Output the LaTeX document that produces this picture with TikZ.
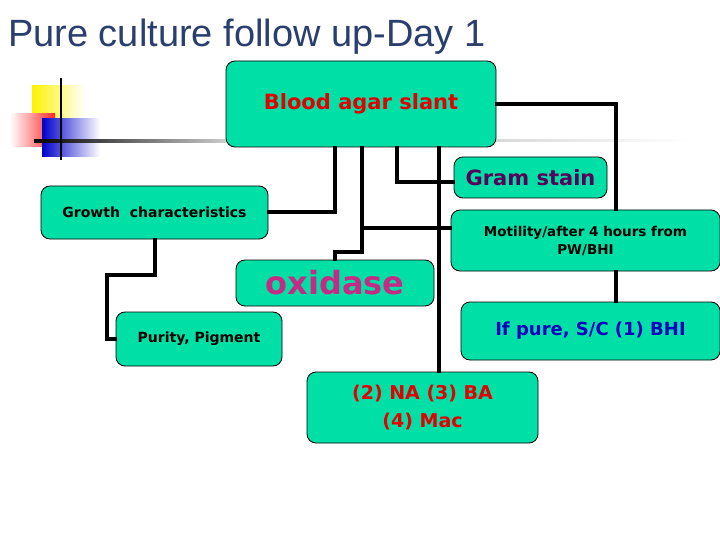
\documentclass[tikz,border=0pt]{standalone}
\usepackage{fontspec}
\setmainfont{DejaVu Sans}
\newfontfamily\titlefont{Liberation Sans}
\begin{document}
\begin{tikzpicture}[x=1pt,y=-1pt,
  box/.style={draw=black, line width=0.8pt, fill=boxgreen, rounded corners=9pt, inner sep=2pt, align=center, font=\bfseries},
  link/.style={line width=3.5pt, line cap=rect}]
\definecolor{boxgreen}{HTML}{00E0A6}
\definecolor{titleblue}{HTML}{2A3F6E}
\useasboundingbox (0,0) rectangle (720,540);
\fill[white] (0,0) rectangle (720,540);
% decoration
\shade[left color=yellow!90!orange, right color=white] (32,86) rectangle (85,122);
\shade[left color=white, right color=red!85] (10,114) rectangle (55,147);
\shade[left color=blue!80!black, right color=white] (42,119) rectangle (100,157);
\shade[left color=black, right color=gray!40] (34,140) rectangle (226,143);
\shade[left color=gray!30, right color=white] (496,140) rectangle (690,142);
\draw[line width=2pt] (61,78) -- (61,160);
\node[anchor=base west, font=\titlefont\fontsize{38}{40}\selectfont, text=titleblue, inner sep=0] (title) at (8,47) {Pure culture follow up-Day 1};
% boxes
\node[box, minimum width=270, minimum height=86, text=red!90!black, font=\bfseries\fontsize{21}{24}\selectfont] (blood) at (361,104) {Blood agar slant};
\node[box, minimum width=153, minimum height=41, text=violet!70!black, font=\bfseries\fontsize{21}{24}\selectfont] (gram) at (530.5,177.5) {Gram stain};
\node[box, minimum width=269, minimum height=61, font=\bfseries\fontsize{13.5}{18}\selectfont] (mot) at (585.5,240.5) {Motility/after 4 hours from\\PW/BHI};
\node[box, minimum width=227, minimum height=53, font=\bfseries\fontsize{14}{16}\selectfont] (growth) at (154.5,212.5) {Growth\ \ characteristics};
\node[box, minimum width=198, minimum height=46, text=magenta!80!black, font=\bfseries\fontsize{32}{34}\selectfont] (oxi) at (335,283) {oxidase};
\node[box, minimum width=166, minimum height=54, font=\bfseries\fontsize{14}{16}\selectfont] (pur) at (199,339) {Purity, Pigment};
\node[box, minimum width=259, minimum height=58, text=blue!75!black, font=\bfseries\fontsize{18}{20}\selectfont] (pure) at (590.5,331) {If pure, S/C (1) BHI};
\node[box, minimum width=231, minimum height=71, text=red!90!black, font=\bfseries\fontsize{19}{28}\selectfont] (na) at (422.5,407.5) {(2) NA (3) BA\\(4) Mac};
% connectors
\draw[link] (blood.east |- 0,104) -| (mot.north -| 616,0);
\draw[link] (mot.south -| 616,0) -- (pure.north -| 616,0);
\draw[link] (blood.south -| 335,0) |- (growth.east |- 0,212);
\draw[link] (growth.south -| 155,0) |- (107,275) |- (pur.west);
\draw[link] (blood.south -| 362,0) |- (335,252) -- (oxi.north -| 335,0);
\draw[link] (362,228) -- (mot.west |- 0,228);
\draw[link] (blood.south -| 397,0) |- (gram.west |- 0,182);
\draw[link] (blood.south -| 439,0) -- (na.north -| 439,0);
\end{tikzpicture}
\end{document}
